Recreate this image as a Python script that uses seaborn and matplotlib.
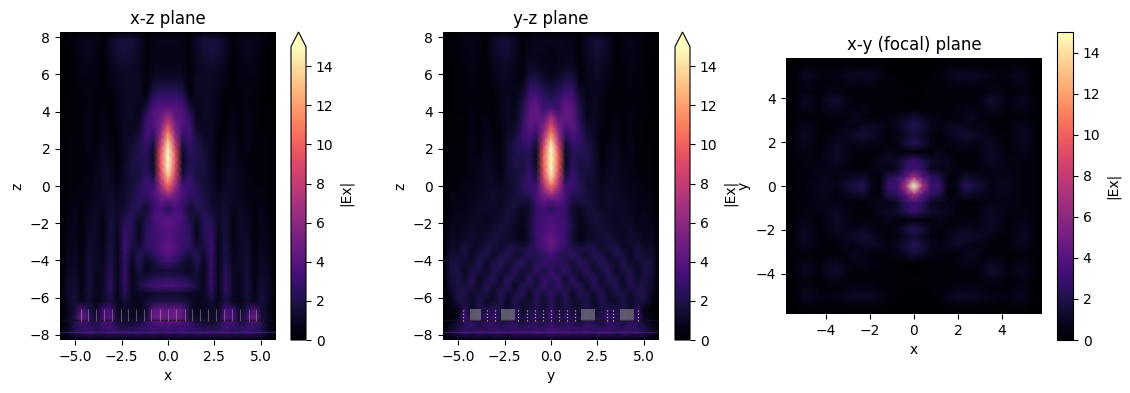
import numpy as np
import seaborn as sns
import matplotlib
matplotlib.use("Agg")
import matplotlib.pyplot as plt

# |Ex|, one row per z (top to bottom), one column per x
xz_field = [
    [0,0,.1,.1,.1,.1,.1,.1,.2,.2,.2,.1,.1,.1,.1,.1,.1,.1,.1,.1,.2,.2,.2,.1,.1,.1,.1,.1,.1,0,0],
    [0,.1,.5,.8,.9,.8,.3,1,1.6,1.7,1.6,1.2,.4,.7,.8,.8,.8,.7,.4,1.2,1.6,1.7,1.6,1,.3,.8,.9,.8,.5,.1,0],
    [0,.1,.5,.8,.9,.7,.2,1,1.6,1.7,1.6,1.1,.3,.6,.7,.7,.7,.6,.3,1.1,1.6,1.7,1.6,1,.2,.7,.9,.8,.5,.1,0],
    [0,.1,.4,.7,.8,.6,.2,.9,1.4,1.6,1.4,1,.3,.6,.6,.6,.6,.6,.3,1,1.4,1.6,1.4,.9,.2,.6,.8,.7,.4,.1,0],
    [0,.1,.4,.6,.7,.6,.2,.8,1.2,1.3,1.2,.9,.3,.6,.6,.6,.6,.6,.3,.9,1.2,1.3,1.2,.8,.2,.6,.7,.6,.4,.1,0],
    [0,.1,.4,.6,.6,.5,.2,.7,1,1.1,1.1,.9,.3,.8,.8,.8,.8,.8,.3,.9,1.1,1.1,1,.7,.2,.5,.6,.6,.4,.1,0],
    [0,.1,.4,.5,.6,.5,.2,.6,.9,1,1.1,1,.3,1.1,1.2,1.2,1.2,1.1,.3,1,1.1,1,.9,.6,.2,.5,.6,.5,.4,.1,0],
    [0,.1,.3,.5,.5,.5,.3,.5,.8,1,1.1,1,.3,1.5,1.8,1.8,1.8,1.5,.3,1,1.1,1,.8,.5,.3,.5,.5,.5,.3,.1,0],
    [0,.1,.3,.4,.5,.4,.4,.3,.7,.9,1.1,1,.4,2.2,2.5,2.5,2.5,2.2,.4,1,1.1,.9,.7,.3,.4,.4,.5,.4,.3,.1,0],
    [0,.2,.3,.4,.5,.4,.4,.2,.7,1,1.1,.9,1,3,3.3,3.3,3.3,3,1,.9,1.1,1,.7,.2,.4,.4,.5,.4,.3,.2,0],
    [0,.2,.3,.4,.5,.4,.5,.2,.6,1,1.1,.8,1.8,3.6,4,4.3,4,3.6,1.8,.8,1.1,1,.6,.2,.5,.4,.5,.4,.3,.2,0],
    [0,.2,.3,.4,.6,.4,.6,.3,.6,1,1,.8,2.6,3.8,4.4,6.5,4.4,3.8,2.6,.8,1,1,.6,.3,.6,.4,.6,.4,.3,.2,0],
    [0,.2,.3,.4,.6,.4,.6,.3,.5,1,.9,1,3.2,3.6,5,8.5,5,3.6,3.2,1,.9,1,.5,.3,.6,.4,.6,.4,.3,.2,0],
    [0,.2,.3,.4,.6,.3,.7,.4,.4,1,1,1.4,3.4,3,5.8,10.8,5.8,3,3.4,1.4,1,1,.4,.4,.7,.3,.6,.4,.3,.2,0],
    [0,.3,.4,.4,.6,.3,.8,.5,.3,1,1.2,1.8,3.2,2.2,7,12.8,7,2.2,3.2,1.8,1.2,1,.3,.5,.8,.3,.6,.4,.4,.3,0],
    [0,.3,.4,.3,.6,.4,.9,.6,.3,1.1,1.4,2,2.8,1.4,8.5,14.5,8.5,1.4,2.8,2,1.4,1.1,.3,.6,.9,.4,.6,.3,.4,.3,0],
    [0,.3,.4,.3,.5,.5,1,.7,.3,1.1,1.6,2.1,2.4,1,9.5,15,9.5,1,2.4,2.1,1.6,1.1,.3,.7,1,.5,.5,.3,.4,.3,0],
    [0,.3,.4,.3,.5,.6,1,.8,.3,1.1,1.7,2,2.2,1,9.5,15,9.5,1,2.2,2,1.7,1.1,.3,.8,1,.6,.5,.3,.4,.3,0],
    [0,.4,.4,.3,.5,.7,1,.9,.4,1.2,1.7,1.8,2.4,1.2,9,14.5,9,1.2,2.4,1.8,1.7,1.2,.4,.9,1,.7,.5,.3,.4,.4,0],
    [0,.4,.4,.4,.5,.8,1,1,.5,1.2,1.6,1.8,2.9,2,8,12.5,8,2,2.9,1.8,1.6,1.2,.5,1,1,.8,.5,.4,.4,.4,0],
    [0,.4,.4,.5,.5,.8,1,1.1,.7,1.2,1.5,2.1,3,3,6.5,10,6.5,3,3,2.1,1.5,1.2,.7,1.1,1,.8,.5,.5,.4,.4,0],
    [0,.4,.5,.5,.6,.8,1,1.2,.9,1.2,1.7,2.5,2.7,3.5,5,7,5,3.5,2.7,2.5,1.7,1.2,.9,1.2,1,.8,.6,.5,.5,.4,0],
    [0,.4,.5,.5,.7,.9,1,1.3,1,1.2,1.9,2.4,2,3.2,4.2,3.8,4.2,3.2,2,2.4,1.9,1.2,1,1.3,1,.9,.7,.5,.5,.4,0],
    [0,.4,.6,.4,.8,1,.8,1.4,1.1,1.4,2.2,2,1.4,3,3.5,2.4,3.5,3,1.4,2,2.2,1.4,1.1,1.4,.8,1,.8,.4,.6,.4,0],
    [0,.5,.7,.4,.9,1.1,.6,1.6,1.1,1.9,2.4,1.4,1.7,3.4,3.8,3.8,3.8,3.4,1.7,1.4,2.4,1.9,1.1,1.6,.6,1.1,.9,.4,.7,.5,0],
    [0,.5,.8,.4,1,1.2,.5,1.7,1,2.4,2.4,1,2.2,3.2,3.8,4.2,3.8,3.2,2.2,1,2.4,2.4,1,1.7,.5,1.2,1,.4,.8,.5,0],
    [0,.6,.8,.4,1.1,1.2,.5,1.7,.9,2.7,2.2,.8,2.5,3,3.4,3.8,3.4,3,2.5,.8,2.2,2.7,.9,1.7,.5,1.2,1.1,.4,.8,.6,0],
    [0,.6,.8,.4,1.2,1.1,.6,1.7,.8,2.9,2,1,2.6,3,3.5,4,3.5,3,2.6,1,2,2.9,.8,1.7,.6,1.1,1.2,.4,.8,.6,0],
    [0,.7,.9,.4,1.3,1.1,.7,1.9,.8,3,1.6,1.6,2.5,3,3.8,4.4,3.8,3,2.5,1.6,1.6,3,.8,1.9,.7,1.1,1.3,.4,.9,.7,0],
    [0,.7,1,.4,1.4,1,.8,2,.7,2.9,1.2,2.1,1.7,2.3,3.3,4,3.3,2.3,1.7,2.1,1.2,2.9,.7,2,.8,1,1.4,.4,1,.7,0],
    [0,.8,1.1,.5,1.5,1,.9,2.2,.7,2.9,.9,2.2,1,1.5,2.5,3,2.5,1.5,1,2.2,.9,2.9,.7,2.2,.9,1,1.5,.5,1.1,.8,0],
    [0,.9,1.2,.5,1.6,.9,1,2.3,.7,2.9,.8,1.8,.9,1.2,1.3,1.5,1.3,1.2,.9,1.8,.8,2.9,.7,2.3,1,.9,1.6,.5,1.2,.9,0],
    [0,1,1.3,.5,1.7,.9,1,2.5,.7,2.9,.8,1.4,1.8,2.2,2.4,2.5,2.4,2.2,1.8,1.4,.8,2.9,.7,2.5,1,.9,1.7,.5,1.3,1,0],
    [0,1.1,1.5,.5,1.8,.8,1.1,2.6,.7,2.8,.8,1.8,2.6,3.2,3.4,3.5,3.4,3.2,2.6,1.8,.8,2.8,.7,2.6,1.1,.8,1.8,.5,1.5,1.1,0],
    [0,1.1,1.6,.6,1.7,.8,1.1,2.4,.7,2.4,.8,1,1,1.2,1.3,1.3,1.3,1.2,1,1,.8,2.4,.7,2.4,1.1,.8,1.7,.6,1.6,1.1,0],
    [0,1.1,1.7,.8,1.4,.7,1,1.7,.7,1.5,.9,.9,1.3,1.7,1.9,1.9,1.9,1.7,1.3,.9,.9,1.5,.7,1.7,1,.7,1.4,.8,1.7,1.1,0],
    [0,.7,1.5,3.5,2,1,3,3.5,1,1.2,1,.8,1.5,4,4.5,4,4.5,4,1.5,.8,1,1.2,1,3.5,3,1,2,3.5,1.5,.7,0],
    [0,.9,1.8,5,3,1.2,3.5,4,1.2,1.3,1.1,1,1.5,4.5,5,4.5,5,4.5,1.5,1,1.1,1.3,1.2,4,3.5,1.2,3,5,1.8,.9,0],
    [.1,.7,2,3,2.5,2,3,3.2,2,1.5,1.6,2,3,3.2,3.5,3.5,3.5,3.2,3,2,1.6,1.5,2,3.2,3,2,2.5,3,2,.7,.1],
    [.3,1,2,2.5,3,2.5,2.5,3,2.5,3,2.5,3,2.5,3,2.5,3,2.5,3,2.5,3,2.5,3,2.5,3,2.5,2.5,3,2.5,2,1,.3],
    [0,.1,.2,.3,.3,.4,.3,.3,.4,.4,.3,.4,.4,.3,.3,.4,.3,.3,.4,.4,.3,.4,.4,.3,.3,.4,.3,.3,.2,.1,0],
]

yz_field = [
    [0,0,.1,.1,.1,.1,.1,.2,.2,.2,.1,.1,.1,.1,.1,.1,.1,.1,.1,.1,.1,.2,.2,.2,.1,.1,.1,.1,.1,0,0],
    [0,.2,.3,.6,.7,.5,.2,1,1.5,1.5,1.1,.3,.6,.8,.8,.8,.8,.8,.6,.3,1.1,1.5,1.5,1,.2,.5,.7,.6,.3,.2,0],
    [0,.2,.3,.5,.7,.5,.2,1,1.4,1.5,1,.3,.7,.8,.8,.7,.8,.8,.7,.3,1,1.5,1.4,1,.2,.5,.7,.5,.3,.2,0],
    [0,.2,.3,.5,.6,.5,.2,.9,1.3,1.3,.9,.3,.8,.8,.7,.6,.7,.8,.8,.3,.9,1.3,1.3,.9,.2,.5,.6,.5,.3,.2,0],
    [0,.1,.3,.5,.6,.4,.2,.8,1.1,1.1,.8,.3,.9,.9,.7,.6,.7,.9,.9,.3,.8,1.1,1.1,.8,.2,.4,.6,.5,.3,.1,0],
    [0,.1,.3,.4,.5,.4,.2,.7,1,1,.8,.4,1.3,1.2,.9,.7,.9,1.2,1.3,.4,.8,1,1,.7,.2,.4,.5,.4,.3,.1,0],
    [0,.1,.3,.4,.5,.4,.2,.6,.9,.9,.7,.5,1.8,1.7,1.2,.9,1.2,1.7,1.8,.5,.7,.9,.9,.6,.2,.4,.5,.4,.3,.1,0],
    [0,.1,.3,.4,.5,.4,.3,.5,.8,.9,.7,.8,2.4,2.4,1.7,1.4,1.7,2.4,2.4,.8,.7,.9,.8,.5,.3,.4,.5,.4,.3,.1,0],
    [0,.1,.2,.4,.4,.4,.3,.3,.8,.9,.7,1.2,3,3.2,2.3,1.8,2.3,3.2,3,1.2,.7,.9,.8,.3,.3,.4,.4,.4,.2,.1,0],
    [0,.1,.2,.4,.4,.4,.3,.2,.7,1,.7,1.6,3.6,4,2.8,2.5,2.8,4,3.6,1.6,.7,1,.7,.2,.3,.4,.4,.4,.2,.1,0],
    [0,.1,.2,.3,.5,.4,.4,.2,.7,1,.7,1.9,4,4.4,3,3.5,3,4.4,4,1.9,.7,1,.7,.2,.4,.4,.5,.3,.2,.1,0],
    [0,.2,.3,.3,.5,.4,.5,.3,.6,1,.8,2.2,4.2,4.4,4,6.5,4,4.4,4.2,2.2,.8,1,.6,.3,.5,.4,.5,.3,.3,.2,0],
    [0,.2,.3,.3,.5,.4,.6,.3,.5,1,1,2.5,4.2,3.9,5,8.5,5,3.9,4.2,2.5,1,1,.5,.3,.6,.4,.5,.3,.3,.2,0],
    [0,.2,.3,.3,.5,.3,.7,.4,.4,1.1,1.3,2.7,3.8,3,6,10.8,6,3,3.8,2.7,1.3,1.1,.4,.4,.7,.3,.5,.3,.3,.2,0],
    [0,.2,.3,.3,.6,.3,.8,.5,.3,1.2,1.7,2.7,3.2,2,7.5,13,7.5,2,3.2,2.7,1.7,1.2,.3,.5,.8,.3,.6,.3,.3,.2,0],
    [0,.3,.3,.3,.6,.4,.9,.6,.3,1.3,2,2.5,2.6,1.2,9,15,9,1.2,2.6,2.5,2,1.3,.3,.6,.9,.4,.6,.3,.3,.3,0],
    [0,.3,.3,.3,.6,.5,1,.7,.3,1.4,2.1,2.1,2.2,1,10,15,10,1,2.2,2.1,2.1,1.4,.3,.7,1,.5,.6,.3,.3,.3,0],
    [0,.3,.3,.3,.6,.6,1,.8,.4,1.4,2,1.8,2.3,1,10,15,10,1,2.3,1.8,2,1.4,.4,.8,1,.6,.6,.3,.3,.3,0],
    [0,.3,.3,.4,.6,.7,1,.9,.5,1.4,1.8,1.7,2.7,1.3,9.5,15,9.5,1.3,2.7,1.7,1.8,1.4,.5,.9,1,.7,.6,.4,.3,.3,0],
    [0,.4,.4,.5,.6,.8,1,1,.7,1.3,1.5,2,3,2,8.5,13.5,8.5,2,3,2,1.5,1.3,.7,1,1,.8,.6,.5,.4,.4,0],
    [0,.4,.4,.6,.6,.8,1.1,1.1,.9,1.2,1.4,2.2,3,3,7,10.5,7,3,3,2.2,1.4,1.2,.9,1.1,1.1,.8,.6,.6,.4,.4,0],
    [0,.5,.5,.6,.7,.9,1.1,1.2,1,1.2,1.6,2.1,2.4,3.5,5.3,7,5.3,3.5,2.4,2.1,1.6,1.2,1,1.2,1.1,.9,.7,.6,.5,.5,0],
    [0,.5,.6,.6,.8,1,1.1,1.2,1,1.4,1.7,1.6,1.6,3.2,4.2,3.8,4.2,3.2,1.6,1.6,1.7,1.4,1,1.2,1.1,1,.8,.6,.6,.5,0],
    [0,.5,.7,.6,.9,1.1,1,1.1,1.1,1.5,1.5,1,1.2,2.8,3.2,2.4,3.2,2.8,1.2,1,1.5,1.5,1.1,1.1,1,1.1,.9,.6,.7,.5,0],
    [0,.6,.8,.7,1,1.1,.9,1.1,1.3,1.6,1.2,.8,1.4,2.8,3.3,3.4,3.3,2.8,1.4,.8,1.2,1.6,1.3,1.1,.9,1.1,1,.7,.8,.6,0],
    [0,.7,.8,.8,1.2,1,.9,1.2,1.5,1.5,1,.7,1.6,3,3.4,3.8,3.4,3,1.6,.7,1,1.5,1.5,1.2,.9,1,1.2,.8,.8,.7,0],
    [0,.8,.8,1,1.3,.9,1,1.5,1.6,1.3,1,.6,1.5,3,3.5,4,3.5,3,1.5,.6,1,1.3,1.6,1.5,1,.9,1.3,1,.8,.8,0],
    [0,.9,.9,1.2,1.3,1,1.3,1.7,1.5,1.2,1,.6,1.4,3,3.8,4.6,3.8,3,1.4,.6,1,1.2,1.5,1.7,1.3,1,1.3,1.2,.9,.9,0],
    [0,1.2,1,1.8,1,1.2,2,1.6,1.2,1.9,2,1.6,2,2.8,3.5,4.4,3.5,2.8,2,1.6,2,1.9,1.2,1.6,2,1.2,1,1.8,1,1.2,0],
    [0,1.4,1.4,1.8,.9,1.8,1.9,1.1,1.9,2.2,1.3,1.7,2.6,2,2.5,3.3,2.5,2,2.6,1.7,1.3,2.2,1.9,1.1,1.9,1.8,.9,1.8,1.4,1.4,0],
    [0,1.6,1.8,1.3,1.2,2.1,1.2,1.7,2.3,1.4,1.9,2.5,1.5,2.2,2.8,2.4,2.8,2.2,1.5,2.5,1.9,1.4,2.3,1.7,1.2,2.1,1.2,1.3,1.8,1.6,0],
    [0,1.6,2,1,1.9,1.8,1,2.2,1.8,1.3,2.5,1.6,1.5,2.7,1.8,2.8,1.8,2.7,1.5,1.6,2.5,1.3,1.8,2.2,1,1.8,1.9,1,2,1.6,0],
    [0,1.4,1.9,1.2,2.3,1.1,1.8,2.2,1.2,2.3,1.8,1.2,2.6,1.5,2.8,2.5,2.8,1.5,2.6,1.2,1.8,2.3,1.2,2.2,1.8,1.1,2.3,1.2,1.9,1.4,0],
    [0,1.3,1.8,1.7,2,1,2.3,1.5,1.6,2.4,1,2.2,2,1.6,3,1.6,3,1.6,2,2.2,1,2.4,1.6,1.5,2.3,1,2,1.7,1.8,1.3,0],
    [0,.9,2,2,1.2,1.8,1.8,1,2.3,1.3,1.8,2.3,1,2.5,1.6,2.8,1.6,2.5,1,2.3,1.8,1.3,2.3,1,1.8,1.8,1.2,2,2,.9,0],
    [0,.6,1.7,1.6,1,2,1,1.3,2,1,2,1.4,1.4,2.2,1.2,2.4,1.2,2.2,1.4,1.4,2,1,2,1.3,1,2,1,1.6,1.7,.6,0],
    [0,.4,.6,2.4,1,2,1.8,2.2,1.8,1.2,2.2,1.2,1.6,2,1.4,2.6,1.4,2,1.6,1.2,2.2,1.2,1.8,2.2,1.8,2,1,2.4,.6,.4,0],
    [0,.4,.8,3,1.5,2.5,2,2.6,2,1.6,2.6,1.6,2,2.4,1.8,3,1.8,2.4,2,1.6,2.6,1.6,2,2.6,2,2.5,1.5,3,.8,.4,0],
    [.1,.7,1.6,2.2,2.8,1.8,2.5,2.8,1.8,2.5,2.6,1.8,2.6,2.4,2,2.8,2,2.4,2.6,1.8,2.6,2.5,1.8,2.8,2.5,1.8,2.8,2.2,1.6,.7,.1],
    [.3,1.3,2,2.8,2.4,3,2.5,2.8,3,2.5,3,3,2.8,3.2,3,3.4,3,3.2,2.8,3,3,2.5,3,2.8,2.5,3,2.4,2.8,2,1.3,.3],
    [0,.1,.2,.3,.3,.4,.3,.3,.4,.4,.3,.4,.4,.3,.3,.4,.3,.3,.4,.4,.3,.4,.4,.3,.3,.4,.3,.3,.2,.1,0],
]

xy_field = [
    [0,0,0,0,0,0,0,0,0,0,0,0,0,0,0,0,0,0,0,0,0,0,0,0,0,0,0,0,0,0,0],
    [0,.1,.3,.4,.3,.2,.2,.3,.3,.3,.3,.3,.2,.1,.1,.1,.1,.1,.2,.3,.3,.3,.3,.3,.2,.2,.3,.4,.3,.1,0],
    [0,.2,.8,.9,.5,.5,.6,.9,1,1.1,1.1,.8,.4,.2,.1,.1,.1,.2,.4,.8,1.1,1.1,1,.9,.6,.5,.5,.9,.8,.2,0],
    [0,.2,.6,.6,.3,.4,.4,.5,.6,.5,.6,.4,.3,.3,.2,.1,.2,.3,.3,.4,.6,.5,.6,.5,.4,.4,.3,.6,.6,.2,0],
    [0,.2,.5,.4,.3,.6,.6,.4,.3,.3,.4,.3,.3,.4,.3,.2,.3,.4,.3,.3,.4,.3,.3,.4,.6,.6,.3,.4,.5,.2,0],
    [0,.3,.9,.8,.4,1.1,1.3,.7,.3,.3,.3,.3,.4,.3,.2,.1,.2,.3,.4,.3,.3,.3,.3,.7,1.3,1.1,.4,.8,.9,.3,0],
    [0,.3,.7,.6,.3,.8,.9,.5,.5,.7,.5,.3,.3,.2,.1,.2,.1,.2,.3,.3,.5,.7,.5,.5,.9,.8,.3,.6,.7,.3,0],
    [0,.2,.3,.2,.2,.3,.3,.4,.9,.6,.3,.3,.5,.6,1,1.5,1,.6,.5,.3,.3,.6,.9,.4,.3,.3,.2,.2,.3,.2,0],
    [0,.3,.8,.7,.3,.2,.4,.7,.5,.9,1,.9,.5,.9,1.6,2.2,1.6,.9,.5,.9,1,.9,.5,.7,.4,.2,.3,.7,.8,.3,0],
    [0,.4,1,.8,.3,.3,.7,.9,1.2,1.4,1.2,.7,.4,.5,1,1.6,1,.5,.4,.7,1.2,1.4,1.2,.9,.7,.3,.3,.8,1,.4,0],
    [0,.4,.9,.6,.3,.6,1,.8,.7,.9,.7,.5,.3,.6,1.6,2.3,1.6,.6,.3,.5,.7,.9,.7,.8,1,.6,.3,.6,.9,.4,0],
    [0,.3,.6,.5,.3,.8,1.1,.7,.3,.4,.4,.4,.8,.3,.2,.3,.2,.3,.8,.4,.4,.4,.3,.7,1.1,.8,.3,.5,.6,.3,0],
    [0,.3,.5,.5,.5,.8,1,.7,.4,.3,.3,.9,1,1.2,2,3,2,1.2,1,.9,.3,.3,.4,.7,1,.8,.5,.5,.5,.3,0],
    [0,.3,.4,.5,.7,.6,.6,.5,.3,.2,.6,.7,.7,.9,2.6,3,2.6,.9,.7,.7,.6,.2,.3,.5,.6,.6,.7,.5,.4,.3,0],
    [0,.3,.4,.5,.7,.7,.5,.8,1,1.3,.5,.3,2,2.6,4,7,4,2.6,2,.3,.5,1.3,1,.8,.5,.7,.7,.5,.4,.3,0],
    [0,.3,.4,.6,.8,.9,.6,1.4,1.8,2.3,.7,.3,3,3,7,15,7,3,3,.3,.7,2.3,1.8,1.4,.6,.9,.8,.6,.4,.3,0],
    [0,.3,.4,.5,.7,.7,.5,.8,1,1.3,.5,.3,2,2.6,4,7,4,2.6,2,.3,.5,1.3,1,.8,.5,.7,.7,.5,.4,.3,0],
    [0,.3,.4,.5,.7,.6,.6,.5,.3,.2,.6,.7,.7,.9,2.6,3,2.6,.9,.7,.7,.6,.2,.3,.5,.6,.6,.7,.5,.4,.3,0],
    [0,.3,.5,.5,.5,.8,1,.7,.4,.3,.3,.9,1,1.2,2,3,2,1.2,1,.9,.3,.3,.4,.7,1,.8,.5,.5,.5,.3,0],
    [0,.3,.6,.5,.3,.8,1.1,.7,.3,.4,.4,.4,.8,.3,.2,.3,.2,.3,.8,.4,.4,.4,.3,.7,1.1,.8,.3,.5,.6,.3,0],
    [0,.4,.9,.6,.3,.6,1,.8,.7,.9,.7,.5,.3,.6,1.6,2.3,1.6,.6,.3,.5,.7,.9,.7,.8,1,.6,.3,.6,.9,.4,0],
    [0,.4,1,.8,.3,.3,.7,.9,1.2,1.4,1.2,.7,.4,.5,1,1.6,1,.5,.4,.7,1.2,1.4,1.2,.9,.7,.3,.3,.8,1,.4,0],
    [0,.3,.8,.7,.3,.2,.4,.7,.5,.9,1,.9,.5,.9,1.6,2.2,1.6,.9,.5,.9,1,.9,.5,.7,.4,.2,.3,.7,.8,.3,0],
    [0,.2,.3,.2,.2,.3,.3,.4,.9,.6,.3,.3,.5,.6,1,1.5,1,.6,.5,.3,.3,.6,.9,.4,.3,.3,.2,.2,.3,.2,0],
    [0,.3,.7,.6,.3,.8,.9,.5,.5,.7,.5,.3,.3,.2,.1,.2,.1,.2,.3,.3,.5,.7,.5,.5,.9,.8,.3,.6,.7,.3,0],
    [0,.3,.9,.8,.4,1.1,1.3,.7,.3,.3,.3,.3,.4,.3,.2,.1,.2,.3,.4,.3,.3,.3,.3,.7,1.3,1.1,.4,.8,.9,.3,0],
    [0,.2,.5,.4,.3,.6,.6,.4,.3,.3,.4,.3,.3,.4,.3,.2,.3,.4,.3,.3,.4,.3,.3,.4,.6,.6,.3,.4,.5,.2,0],
    [0,.2,.6,.6,.3,.4,.4,.5,.6,.5,.6,.4,.3,.3,.2,.1,.2,.3,.3,.4,.6,.5,.6,.5,.4,.4,.3,.6,.6,.2,0],
    [0,.2,.8,.9,.5,.5,.6,.9,1,1.1,1.1,.8,.4,.2,.1,.1,.1,.2,.4,.8,1.1,1.1,1,.9,.6,.5,.5,.9,.8,.2,0],
    [0,.1,.3,.4,.3,.2,.2,.3,.3,.3,.3,.3,.2,.1,.1,.1,.1,.1,.2,.3,.3,.3,.3,.3,.2,.2,.3,.4,.3,.1,0],
    [0,0,0,0,0,0,0,0,0,0,0,0,0,0,0,0,0,0,0,0,0,0,0,0,0,0,0,0,0,0,0],
]

# structure drawn over the fields
xz_pillars = [-4.71,-4.29,-3.9,-3.45,-3.0,-2.55,-2.15,-1.7,-1.3,-0.9,-0.45,0,0.45,0.9,1.3,1.75,2.15,2.6,3.0,3.45,3.9,4.35,4.75]
yz_pillars = [-4.72,-3.44,-3.01,-1.76,-1.29,-0.88,-0.43,0,0.43,0.86,1.29,3.01,3.35,4.7]
yz_blocks = [(-4.37,-3.75),(-2.67,-1.95),(1.63,2.35),(3.73,4.45)]

side_ticks = [-8,-6,-4,-2,0,2,4,6,8]
long_ticks = [-5.0,-2.5,0.0,2.5,5.0]
focal_ticks = [-4,-2,0,2,4]
cbar_ticks = [0,2,4,6,8,10,12,14]

W, H = 1130, 393
cmap = sns.color_palette("magma", as_cmap=True)
fig = plt.figure(figsize=(W / 100, H / 100), dpi=100)


def px_axes(left, top, right, bottom):
    return fig.add_axes([left / W, 1 - bottom / H, (right - left) / W, (bottom - top) / H])


def draw_field(field, ax, cax, hlim, vlim, extend=None):
    field = np.array(field, dtype=float)
    nrows, ncols = field.shape
    cbar_kws = {"label": "|Ex|", "ticks": cbar_ticks}
    if extend:
        cbar_kws["extend"] = extend
    sns.heatmap(field, ax=ax, cbar_ax=cax, cmap=cmap, vmin=0, vmax=15, shading="gouraud",
                xticklabels=False, yticklabels=False, cbar_kws=cbar_kws)
    ax.set_xlim(0, ncols - 1)
    ax.set_ylim(nrows - 1, 0)
    outline = ax.collections[0].colorbar.outline
    outline.set_visible(True)
    outline.set_linewidth(0.8)
    outline.set_edgecolor("black")
    cax.tick_params(length=3.5, width=0.8, labelsize=10)
    cax.yaxis.label.set_size(10)

    def to_col(v):
        return (np.asarray(v, dtype=float) - hlim[0]) / (hlim[1] - hlim[0]) * (ncols - 1)

    def to_row(v):
        return (vlim[1] - np.asarray(v, dtype=float)) / (vlim[1] - vlim[0]) * (nrows - 1)

    return to_col, to_row


def label_axes(ax, to_col, to_row, xticks, yticks, xfmt, title, xlabel, ylabel):
    ax.set_xticks(to_col(xticks))
    ax.set_xticklabels([xfmt.format(t).replace("-", "\u2212") for t in xticks], rotation=0)
    ax.set_yticks(to_row(yticks))
    ax.set_yticklabels([str(t).replace("-", "\u2212") for t in yticks], rotation=0)
    ax.tick_params(length=3.5, width=0.8, labelsize=10)
    ax.set_title(title, fontsize=12)
    ax.set_xlabel(xlabel, fontsize=10)
    ax.set_ylabel(ylabel, fontsize=10)


# x-z plane
ax = px_axes(60, 32, 276, 340)
cax = px_axes(291, 32, 306, 340)
to_col, to_row = draw_field(xz_field, ax, cax, (-5.82, 5.82), (-8.28, 8.28), extend="max")
ax.hlines(to_row([-7.2]), 0, 30, color="#1a1020", lw=1, alpha=0.6)
ax.hlines(to_row([-7.85]), 0, 30, color="#5a2a90", lw=1, alpha=0.5)
ax.vlines(to_col(xz_pillars), to_row(-7.25), to_row(-6.6), color="#b0a8b0", lw=0.8, alpha=0.45)
label_axes(ax, to_col, to_row, long_ticks, side_ticks, "{:.1f}", "x-z plane", "x", "z")

# y-z plane
ax = px_axes(443, 32, 659, 340)
cax = px_axes(675, 32, 690, 340)
to_col, to_row = draw_field(yz_field, ax, cax, (-5.82, 5.82), (-8.28, 8.28), extend="max")
ax.hlines(to_row([-7.2]), 0, 30, color="#1a1020", lw=1, alpha=0.6)
ax.hlines(to_row([-7.85]), 0, 30, color="#5a2a90", lw=1, alpha=0.5)
for lo, hi in yz_blocks:
    ax.fill_between(to_col([lo, hi]), to_row(-7.25), to_row(-6.6), color="#8a8a8a", alpha=0.6, lw=0)
ax.vlines(to_col(yz_pillars), to_row(-7.25), to_row(-6.6), color="#e8a0d8", lw=0.9, ls=":", alpha=0.9)
label_axes(ax, to_col, to_row, long_ticks, side_ticks, "{:.1f}", "y-z plane", "y", "z")

# focal plane
ax = px_axes(786, 58, 1042, 314)
cax = px_axes(1057, 32, 1073, 340)
to_col, to_row = draw_field(xy_field, ax, cax, (-5.82, 5.82), (-5.82, 5.82))
label_axes(ax, to_col, to_row, focal_ticks, focal_ticks, "{:d}", "x-y (focal) plane", "x", "y")

fig.savefig("out.png", dpi=100)
